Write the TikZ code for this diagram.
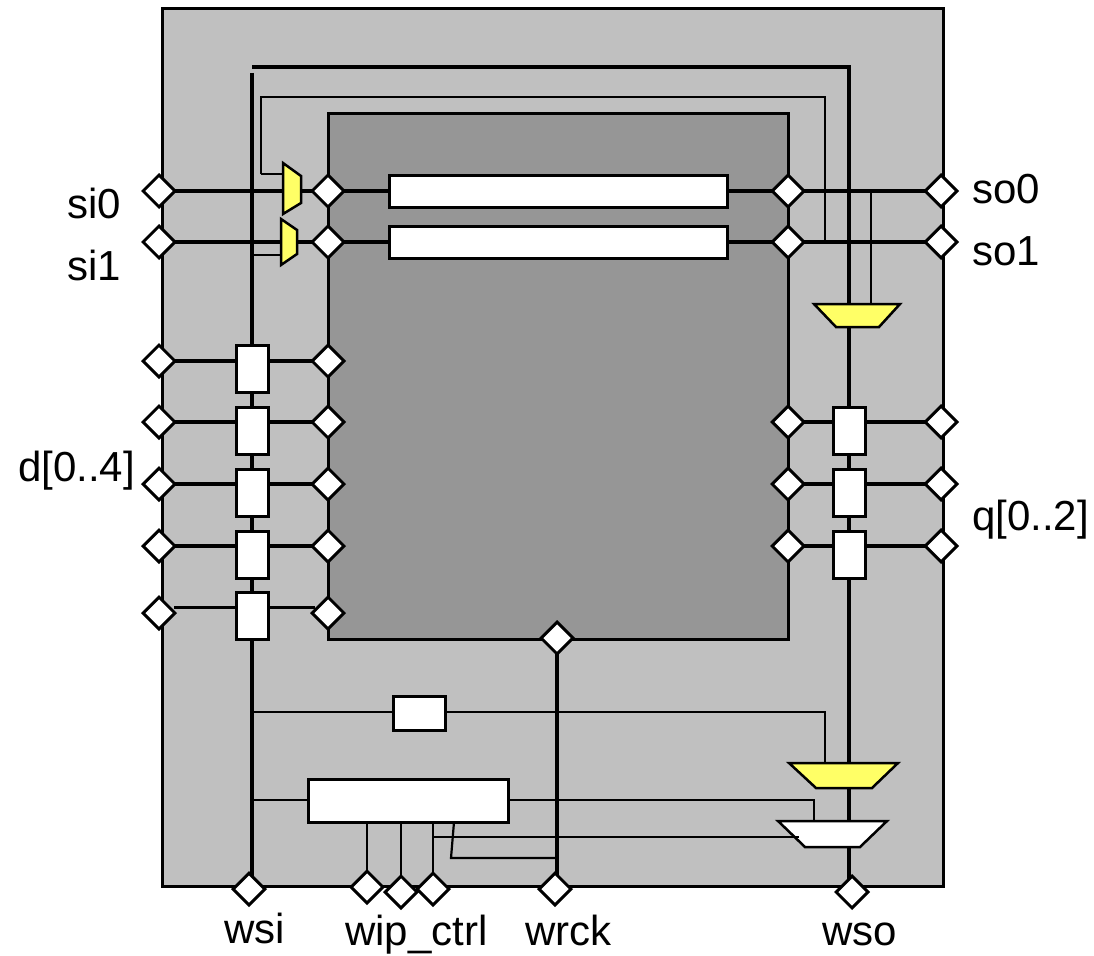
\documentclass[tikz,border=0pt]{standalone}
\usepackage{fontspec}
\setmainfont{Liberation Sans}
\usepackage{xcolor}
\usepackage{tikz}
\usetikzlibrary{shapes.geometric}
\definecolor{wrapgray}{HTML}{C0C0C0}
\definecolor{coregray}{HTML}{969696}
\definecolor{muxyellow}{HTML}{FFFF66}
\pgfdeclarelayer{base}
\pgfdeclarelayer{wires}
\pgfsetlayers{base,wires,main}

\begin{document}
\begin{tikzpicture}[
  x=1pt, y=-1pt,
  block/.style={draw, line width=3pt, fill=#1, inner sep=0pt},
  pad/.style={draw, line width=3pt, fill=white, shape=diamond, inner sep=0pt, minimum size=33pt},
  wcell/.style={draw, line width=3pt, fill=white, inner sep=0pt, minimum width=32pt, minimum height=47pt},
  reg/.style={draw, line width=3pt, fill=white, inner sep=0pt, minimum width=338pt, minimum height=32pt},
  mux/.style={draw, line width=2.5pt, fill=#1, line join=miter},
  wire/.style={line width=3.2pt},
  thinwire/.style={line width=2.2pt},
  lbl/.style={anchor=base west, inner sep=0pt, font=\fontsize{42}{48}\selectfont},
]
\useasboundingbox (0,0) rectangle (1094,955);

% Wrapper and core
\begin{pgfonlayer}{base}
\node[block=wrapgray, minimum width=781pt, minimum height=877pt] (wrapper) at (552.5,447.5) {};
\node[block=coregray, minimum width=460pt, minimum height=525pt] (core) at (558,376.5) {};
\end{pgfonlayer}

% Left pads
\node[pad] (si0) at (159,191) {};
\node[pad] (si1) at (159,242) {};
\node[pad] (d0) at (159,361) {};
\node[pad] (d1) at (159,422) {};
\node[pad] (d2) at (159,484) {};
\node[pad] (d3) at (159,546) {};
\node[pad] (d4) at (159,613) {};

% Core pads, left side
\node[pad] (csi0) at (328,191) {};
\node[pad] (csi1) at (328,242) {};
\node[pad] (cd0) at (328,361) {};
\node[pad] (cd1) at (328,422) {};
\node[pad] (cd2) at (328,484) {};
\node[pad] (cd3) at (328,546) {};
\node[pad] (cd4) at (328,613) {};

% Core pads, right side
\node[pad] (cso0) at (788,191) {};
\node[pad] (cso1) at (788,242) {};
\node[pad] (cq0) at (788,422) {};
\node[pad] (cq1) at (788,484) {};
\node[pad] (cq2) at (788,546) {};

% Right pads
\node[pad] (so0) at (941,191) {};
\node[pad] (so1) at (941,242) {};
\node[pad] (q0) at (941,422) {};
\node[pad] (q1) at (941,484) {};
\node[pad] (q2) at (941,546) {};

% Bottom pads
\node[pad] (wsi) at (249,889) {};
\node[pad] (wipa) at (367,887) {};
\node[pad] (wipb) at (401,892) {};
\node[pad] (wipc) at (433,889) {};
\node[pad] (wrck) at (555,889) {};
\node[pad] (wso) at (852,892) {};
\node[pad] (cwrck) at (557,638) {};

% Shift registers
\node[reg] (rega) at (558,191) {};
\node[reg] (regb) at (558,242) {};

% Boundary cells
\node[wcell] (bd0) at (252,368.5) {};
\node[wcell] (bd1) at (252,430.5) {};
\node[wcell] (bd2) at (252,492.5) {};
\node[wcell] (bd3) at (252,554.5) {};
\node[wcell] (bd4) at (252,615.5) {};
\node[wcell] (bq0) at (849,430.5) {};
\node[wcell] (bq1) at (849,492.5) {};
\node[wcell] (bq2) at (849,554.5) {};

% Bypass and instruction register
\node[block=white, minimum width=52pt, minimum height=34pt] (bypass) at (419.5,713.5) {};
\node[block=white, minimum width=200pt, minimum height=43pt] (wir) at (408,800.5) {};

% Multiplexers
\draw[mux=muxyellow] (283,163) -- (301,176) -- (301,203) -- (283,214) -- cycle;
\draw[mux=muxyellow] (281,219) -- (297,230) -- (297,254) -- (281,265) -- cycle;
\draw[mux=muxyellow] (814,304) -- (900,304) -- (879,327) -- (836,327) -- cycle;
\draw[mux=muxyellow] (789,763) -- (898,763) -- (872,788) -- (816,788) -- cycle;
\draw[mux=white] (778,821) -- (887,821) -- (860,847) -- (805,847) -- cycle;

% Free wire ends
\coordinate (muxa) at (292,188);
\coordinate (muxb) at (289,242);
\coordinate (muxc) at (857,316);
\coordinate (muxd) at (843,775);
\coordinate (muxe) at (832,834);
\coordinate (topl) at (252,67);
\coordinate (wsitop) at (252,73);
\coordinate (topr) at (849,67);
\coordinate (loopl) at (261,97);
\coordinate (loopr) at (825,97);
\coordinate (loopin) at (261,174);
\coordinate (tapbyp) at (252,712);
\coordinate (tapwir) at (252,800);
\coordinate (tapmuxb) at (252,255);
\coordinate (tapso) at (871,191);
\coordinate (slanta) at (454,822);
\coordinate (slantb) at (451,858);
\coordinate (clkin) at (799,837);
\coordinate (clkout) at (433,837);
\coordinate (wirturn) at (814,800);

\begin{pgfonlayer}{wires}
% Scan paths
\draw[wire] (si0.center) -- (csi0.center) -- (rega.center) -- (cso0.center) -- (so0.center);
\draw[wire] (si1.center) -- (csi1.center) -- (regb.center) -- (cso1.center) -- (so1.center);
\draw[wire] (d0.center) -- (bd0.west |- d0.center);
\draw[wire] (bd0.east |- d0.center) -- (cd0.center);
\draw[wire] (d1.center) -- (bd1.west |- d1.center);
\draw[wire] (bd1.east |- d1.center) -- (cd1.center);
\draw[wire] (d2.center) -- (bd2.west |- d2.center);
\draw[wire] (bd2.east |- d2.center) -- (cd2.center);
\draw[wire] (d3.center) -- (bd3.west |- d3.center);
\draw[wire] (bd3.east |- d3.center) -- (cd3.center);
\draw[wire] ([yshift=8pt]bd4.west) -- ++(-61,0);
\draw[wire] ([yshift=8pt]bd4.east) -- ++(45,0);
\draw[wire] (q0.center) -- (cq0.center);
\draw[wire] (q1.center) -- (cq1.center);
\draw[wire] (q2.center) -- (cq2.center);

% Serial chain
\draw[wire] (wsitop) -- (wsitop |- wsi.center);
\draw[wire] (topl) -- (topr) -- (topr |- wso.center);
\draw[thinwire] (loopin) -- (loopl) -- (loopr) -- (loopr |- so1.center);
\draw[thinwire] (loopin) -- (loopin -| muxa);
\draw[thinwire] (tapmuxb) -- (tapmuxb -| muxb);
\draw[thinwire] (tapso) -- (tapso |- muxc);

% Bottom wires
\draw[thinwire] (tapbyp) -- (tapbyp -| loopr) -- (loopr |- muxd);
\draw[thinwire] (tapwir) -- (wirturn) -- (wirturn |- muxe);
\draw[thinwire] (wipa.center |- wir.center) -- (wipa.center);
\draw[thinwire] (wipb.center |- wir.center) -- (wipb.center);
\draw[thinwire] (wipc.center |- wir.center) -- (wipc.center);
\draw[thinwire] (slanta) -- (slantb) -- (slantb -| cwrck);
\draw[wire] (cwrck.center) -- (cwrck.center |- wrck.center);
\end{pgfonlayer}

% Wire that runs into the lower mux
\draw[thinwire] (clkout) -- (clkin);

% Labels
\node[lbl] (lsi0) at (67,218) {si0};
\node[lbl] (lsi1) at (67,280) {si1};
\node[lbl] (ldd) at (18,481) {d[0..4]};
\node[lbl] (lso0) at (972,203) {so0};
\node[lbl] (lso1) at (972,265) {so1};
\node[lbl] (lqq) at (972,530) {q[0..2]};
\node[lbl] (lwsi) at (224,943) {wsi};
\node[lbl] (lwip) at (345,945) {wip\_ctrl};
\node[lbl] (lwrck) at (525,945) {wrck};
\node[lbl] (lwso) at (822,945) {wso};
\end{tikzpicture}
\end{document}
